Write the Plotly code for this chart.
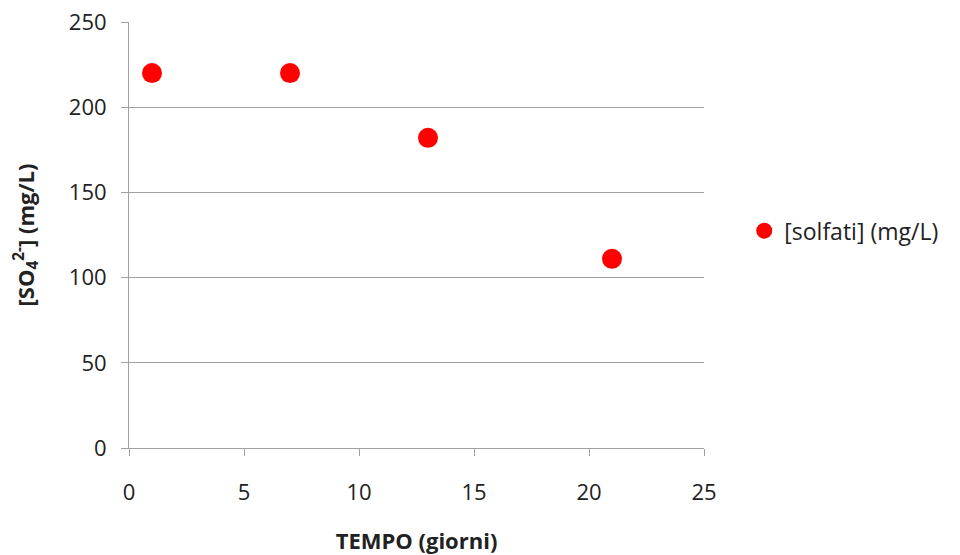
import plotly.graph_objects as go

tempo = [1, 7, 13, 21]
solfati = [220, 220, 182, 111]
series_name = "[solfati] (mg/L)"
x_ticks = [0, 5, 10, 15, 20, 25]
y_ticks = [0, 50, 100, 150, 200, 250]

FONT = "'Open Sans', sans-serif"
GRID = "#a0a0a0"

fig = go.Figure()
fig.add_trace(go.Scatter(
    x=tempo, y=solfati, mode="markers", name=series_name,
    marker=dict(color="#ff0000", size=20, line=dict(width=0)),
))

fig.update_layout(
    width=960, height=555,
    margin=dict(l=129, r=256, t=22, b=107),
    paper_bgcolor="white", plot_bgcolor="white",
    font=dict(family=FONT, size=22, color="#222222"),
    showlegend=True,
    legend=dict(x=1.07, y=0.51, xanchor="left", yanchor="middle",
                font=dict(size=23, color="#222222"), itemsizing="trace",
                borderwidth=0),
    xaxis=dict(
        range=[0, 25], tickvals=x_ticks, ticks="outside", ticklen=7,
        tickcolor=GRID, showline=True, linecolor=GRID, linewidth=1,
        showgrid=False, zeroline=False, ticklabelstandoff=18, automargin=False,
        title=dict(text="<b>TEMPO (giorni)</b>", font=dict(size=22), standoff=30),
    ),
    yaxis=dict(
        range=[0, 250], tickvals=y_ticks, ticks="outside", ticklen=7,
        tickcolor=GRID, showline=True, linecolor=GRID, linewidth=1,
        showgrid=True, gridcolor=GRID, gridwidth=1, zeroline=False,
        ticklabelstandoff=10, automargin=False,
        title=dict(text="<b>[SO<sub>4</sub><sup>2-</sup>] (mg/L)</b>", font=dict(size=22), standoff=28),
    ),
)

fig.write_html("out.html")
